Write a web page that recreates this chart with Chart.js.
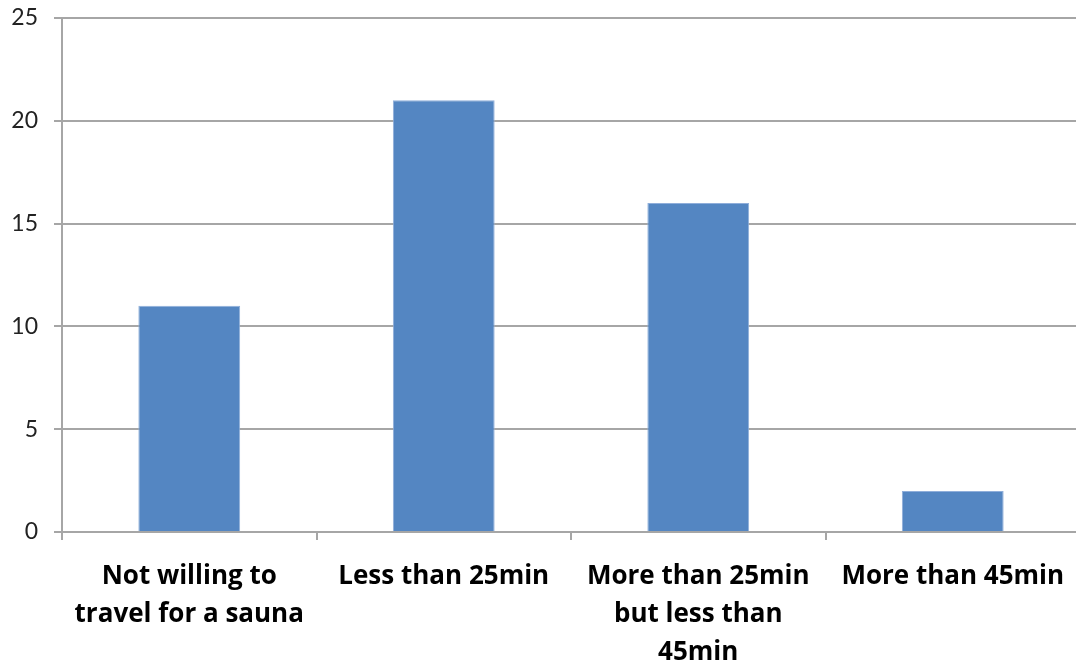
<!DOCTYPE html>
<html>
<head>
<meta charset="utf-8">
<script src="https://cdn.jsdelivr.net/npm/chart.js@4"></script>
<style>
html,body{margin:0;padding:0;background:#fff;overflow:hidden;}
#wrap{width:1076px;height:665px;position:relative;overflow:hidden;}
</style>
</head>
<body>
<div id="wrap"><canvas id="c" width="1080" height="665"></canvas></div>
<script>
const categories = [
  ["Not willing to", "travel for a sauna"],
  ["Less than 25min"],
  ["More than 25min", "but less than", "45min"],
  ["More than 45min"]
];
const values = [11, 21, 16, 2];
const yTicks = [0, 5, 10, 15, 20, 25];

new Chart(document.getElementById('c'), {
  type: 'bar',
  data: {
    labels: categories,
    datasets: [{
      data: values,
      backgroundColor: '#5486C2',
      borderColor: '#8FAEDA',
      borderWidth: 1,
      barPercentage: 0.4,
      categoryPercentage: 1.0
    }]
  },
  options: {
    responsive: false,
    animation: false,
    layout: { padding: { left: 0, right: 0, top: 18, bottom: 0 } },
    plugins: { legend: { display: false }, tooltip: { enabled: false } },
    scales: {
      x: {
        grid: { display: true, drawOnChartArea: false, offset: true, tickLength: 8, color: '#a6a6a6', lineWidth: 2 },
        border: { display: true, color: '#a6a6a6', width: 2 },
        ticks: {
          color: '#000',
          font: { family: 'Open Sans', size: 26, weight: 'bold', lineHeight: 1.46 },
          padding: 18,
          maxRotation: 0,
          autoSkip: false
        },
        afterFit: (s) => { s.height = 133; s.paddingLeft = 0; s.paddingRight = 0; }
      },
      y: {
        min: 0, max: 25,
        afterBuildTicks: (s) => { s.ticks = yTicks.map(v => ({ value: v })); },
        grid: { color: '#a6a6a6', lineWidth: 2, tickLength: 8 },
        border: { display: true, color: '#a6a6a6', width: 2 },
        ticks: {
          color: '#222',
          font: { family: 'Lato', size: 23 },
          padding: 16
        },
        afterFit: (s) => { s.width = 62; s.paddingTop = 0; s.paddingBottom = 0; }
      }
    }
  }
});
</script>
</body>
</html>
